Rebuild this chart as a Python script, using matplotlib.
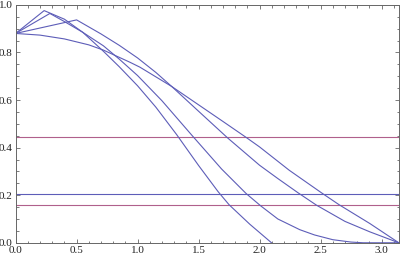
"""Four profiles on [0, pi] with three reference levels, Mathematica-style frame.

Writes ``out.png`` (400x258 px).
"""

import numpy as np
import matplotlib.pyplot as plt
from matplotlib.ticker import MultipleLocator

# values
x_a = [0.0, 0.234, 0.40, 0.55, 0.72, 0.85, 1.00, 1.15, 1.32, 1.50,
       1.66, 1.75, 1.92, 2.00, 2.098]
y_a = [0.88, 0.976, 0.94, 0.885, 0.805, 0.74, 0.66, 0.57, 0.455, 0.325,
       0.215, 0.16, 0.078, 0.043, 0.0]

x_b = [0.0, 0.281, 0.40, 0.55, 0.72, 0.85, 1.00, 1.20, 1.44, 1.689,
       1.89, 2.01, 2.15, 2.33, 2.45, 2.60, 2.75, 2.85, 3.1416]
y_b = [0.88, 0.964, 0.93, 0.885, 0.828, 0.772, 0.703, 0.597, 0.455, 0.31,
       0.207, 0.155, 0.10, 0.055, 0.033, 0.013, 0.003, 0.0, 0.0]

x_c = [0.0, 0.50, 0.70, 0.85, 1.00, 1.15, 1.28, 1.50, 1.74, 2.00, 2.15,
       2.316, 2.467, 2.70, 2.904, 3.1416]
y_c = [0.88, 0.937, 0.878, 0.83, 0.777, 0.716, 0.657, 0.553, 0.44, 0.326,
       0.27, 0.21, 0.158, 0.09, 0.046, 0.0]

x_d = [0.0, 0.20, 0.40, 0.60, 0.72, 0.937, 1.02, 1.28, 1.50, 1.70, 1.89,
       2.00, 2.243, 2.508, 2.652, 2.904, 3.1416]
y_d = [0.88, 0.873, 0.857, 0.832, 0.81, 0.759, 0.738, 0.657, 0.58, 0.51,
       0.443, 0.403, 0.305, 0.21, 0.16, 0.081, 0.0]

levels = [0.443, 0.207, 0.158]
level_kinds = ["pink", "blue", "pink"]

x_max = np.pi
x_ticks = [0.0, 0.5, 1.0, 1.5, 2.0, 2.5, 3.0]
y_ticks = [0.0, 0.2, 0.4, 0.6, 0.8, 1.0]

BLUE = "#5d5db8"
PINK = "#b0608c"
FRAME = "#666666"


def plot():
    plt.rcParams["font.family"] = ["Liberation Serif", "DejaVu Serif"]
    fig = plt.figure(figsize=(4.0, 2.58), dpi=100)
    ax = fig.add_axes([0.039, 0.059, 0.958, 0.922])

    for y, kind in zip(levels, level_kinds):
        ax.axhline(y, color=PINK if kind == "pink" else BLUE, linewidth=0.8)
    for xs, ys in [(x_a, y_a), (x_b, y_b), (x_c, y_c), (x_d, y_d)]:
        ax.plot(xs, ys, color=BLUE, linewidth=0.8)

    ax.set_xlim(0, x_max)
    ax.set_ylim(0, 1)
    ax.set_xticks(x_ticks)
    ax.set_yticks(y_ticks)
    ax.set_xticklabels([f"{t:.1f}" for t in x_ticks])
    ax.set_yticklabels([f"{t:.1f}" for t in y_ticks])
    ax.xaxis.set_minor_locator(MultipleLocator(0.1))
    ax.yaxis.set_minor_locator(MultipleLocator(0.05))
    ax.tick_params(which="both", direction="in", top=True, right=True,
                   color=FRAME, width=0.6, labelsize=8, labelcolor="#222222")
    ax.tick_params(which="major", length=3.0, pad=2)
    ax.tick_params(which="minor", length=1.8)
    for sp in ax.spines.values():
        sp.set_color(FRAME)
        sp.set_linewidth(0.7)

    fig.savefig("out.png", dpi=100)
    plt.close(fig)


if __name__ == "__main__":
    plot()
